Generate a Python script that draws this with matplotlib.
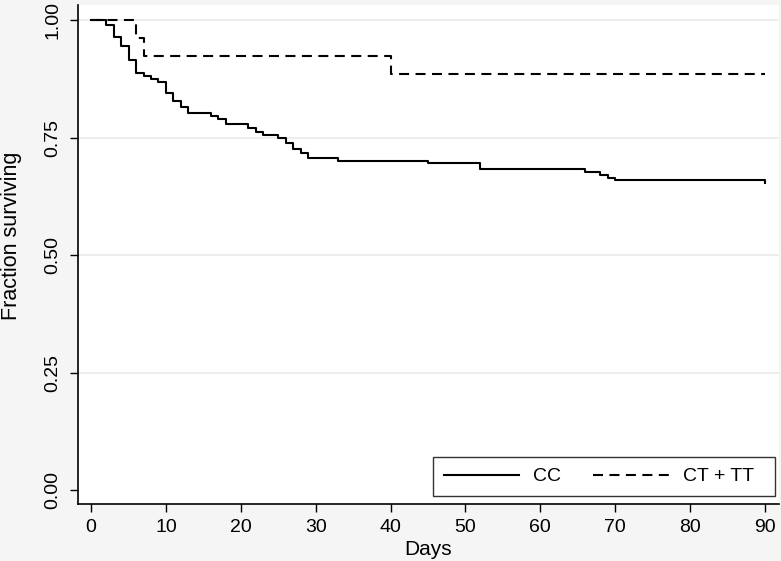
import matplotlib.pyplot as plt

# Kaplan-Meier estimates
cc_days = [0, 2, 3, 4, 5, 6, 7, 8, 9, 10, 11, 12, 13, 16, 17, 18, 21, 22, 23,
           25, 26, 27, 28, 29, 33, 45, 52, 66, 68, 69, 70, 90]
cc_surv = [1.0, 0.989, 0.965, 0.945, 0.915, 0.888, 0.881, 0.874, 0.868, 0.844,
           0.828, 0.814, 0.802, 0.796, 0.789, 0.779, 0.770, 0.761, 0.756, 0.749,
           0.738, 0.725, 0.718, 0.706, 0.700, 0.695, 0.683, 0.677, 0.670, 0.665,
           0.660, 0.654]

cttt_days = [0, 6, 7, 40, 90]
cttt_surv = [1.0, 0.962, 0.923, 0.885, 0.885]

x_ticks = list(range(0, 100, 10))
y_ticks = [0.0, 0.25, 0.5, 0.75, 1.0]
y_labels = ["0.00", "0.25", "0.50", "0.75", "1.00"]

plt.rcParams['font.family'] = ['Liberation Sans', 'DejaVu Sans']

fig = plt.figure(figsize=(7.81, 5.61), dpi=100, facecolor='#f5f5f5')
ax = fig.add_axes([0.0999, 0.1016, 0.8975, 0.8894])
ax.set_facecolor('white')

for y in y_ticks[1:]:
    ax.axhline(y, color='#eaeaea', lw=1.2, zorder=0)

ax.step(cc_days, cc_surv, where='post', color='black', lw=1.5, label='CC')
ax.step(cttt_days, cttt_surv, where='post', color='black', lw=1.5,
        dashes=(4.8, 3.1), label='CT + TT  ')

ax.set_xlim(-1.75, 91.9)
ax.set_ylim(-0.0298, 1.032)
ax.set_xticks(x_ticks)
ax.set_yticks(y_ticks)
ax.set_yticklabels(y_labels, rotation=90, va='center')
ax.tick_params(axis='both', direction='out', length=6, width=1,
               labelsize=14, color='black')
ax.tick_params(axis='y', pad=6)
ax.tick_params(axis='x', pad=5)

for side in ['top', 'right']:
    ax.spines[side].set_visible(False)
for side in ['left', 'bottom']:
    ax.spines[side].set_linewidth(1.2)

ax.set_xlabel('Days', fontsize=15, labelpad=3)
ax.set_ylabel('Fraction surviving', fontsize=15.5)
ax.yaxis.set_label_coords(-0.080, 0.537)

leg = ax.legend(loc='lower right', bbox_to_anchor=(0.994, 0.016),
                borderaxespad=0, ncol=2, handlelength=3.9, handletextpad=0.7,
                columnspacing=1.65, fontsize=14, fancybox=False, frameon=True,
                borderpad=0.55)
leg.get_frame().set_edgecolor('black')
leg.get_frame().set_linewidth(1.0)

fig.savefig('out.png', dpi=100, facecolor=fig.get_facecolor())
